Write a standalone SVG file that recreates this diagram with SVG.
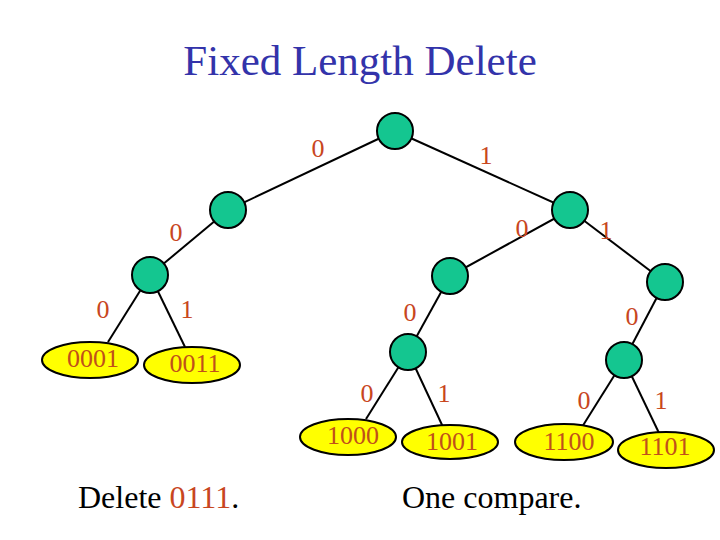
<svg xmlns="http://www.w3.org/2000/svg" width="720" height="540" viewBox="0 0 720 540">
<style>
.n{fill:#14c690;stroke:#000;stroke-width:2}
.lf{fill:#ffff00;stroke:#000;stroke-width:2}
.e{stroke:#000;stroke-width:2;fill:none}
.t{font-family:"Liberation Serif",serif;font-size:26px;fill:#c8461e;text-anchor:middle}
.lt{font-family:"Liberation Serif",serif;font-size:26px;fill:#c0501a;text-anchor:middle}
</style>
<rect width="720" height="540" fill="#fff"/>
<text x="360" y="75" font-family="Liberation Serif,serif" font-size="43" fill="#3333aa" text-anchor="middle">Fixed Length Delete</text>
<g id="connectors">
<line class="e" x1="395" y1="131" x2="228" y2="210"/>
<line class="e" x1="395" y1="131" x2="570" y2="210"/>
<line class="e" x1="228" y1="210" x2="150" y2="275"/>
<line class="e" x1="570" y1="210" x2="450" y2="276"/>
<line class="e" x1="570" y1="210" x2="665" y2="282"/>
<line class="e" x1="450" y1="276" x2="408" y2="352"/>
<line class="e" x1="665" y1="282" x2="624" y2="360"/>
<line class="e" x1="150" y1="275" x2="108" y2="342"/>
<line class="e" x1="150" y1="275" x2="185" y2="347"/>
<line class="e" x1="408" y1="352" x2="366" y2="419"/>
<line class="e" x1="408" y1="352" x2="443" y2="427"/>
<line class="e" x1="624" y1="360" x2="582" y2="427"/>
<line class="e" x1="624" y1="360" x2="659" y2="433"/>
</g>
<g id="labels">
<text class="t" x="318" y="157">0</text>
<text class="t" x="486" y="164">1</text>
<text class="t" x="176" y="241">0</text>
<text class="t" x="522" y="237">0</text>
<text class="t" x="606" y="239">1</text>
<text class="t" x="103" y="318">0</text>
<text class="t" x="187" y="318">1</text>
<text class="t" x="410" y="321">0</text>
<text class="t" x="632" y="325">0</text>
<text class="t" x="367" y="402">0</text>
<text class="t" x="444" y="402">1</text>
<text class="t" x="584" y="409">0</text>
<text class="t" x="661" y="409">1</text>
</g>
<g id="root"><circle class="n" cx="395" cy="131" r="18"/></g>
<g id="n0"><circle class="n" cx="228" cy="210" r="18"/></g>
<g id="n1"><circle class="n" cx="570" cy="210" r="18"/></g>
<g id="n00"><circle class="n" cx="150" cy="275" r="18"/></g>
<g id="n10"><circle class="n" cx="450" cy="276" r="18"/></g>
<g id="n11"><circle class="n" cx="665" cy="282" r="18"/></g>
<g id="n100"><circle class="n" cx="408" cy="352" r="18"/></g>
<g id="n110"><circle class="n" cx="624" cy="360" r="18"/></g>
<g id="leaf0001"><ellipse class="lf" cx="90" cy="360" rx="48" ry="18"/><text class="lt" x="93" y="367">0001</text></g>
<g id="leaf0011"><ellipse class="lf" cx="192" cy="365" rx="48" ry="18"/><text class="lt" x="195" y="372">0011</text></g>
<g id="leaf1000"><ellipse class="lf" cx="348" cy="437" rx="48" ry="18"/><text class="lt" x="353" y="444">1000</text></g>
<g id="leaf1001"><ellipse class="lf" cx="450" cy="442" rx="48" ry="17"/><text class="lt" x="452" y="450">1001</text></g>
<g id="leaf1100"><ellipse class="lf" cx="564" cy="442" rx="49" ry="18"/><text class="lt" x="569" y="450">1100</text></g>
<g id="leaf1101"><ellipse class="lf" cx="666" cy="450" rx="48" ry="18"/><text class="lt" x="665" y="455">1101</text></g>
<text x="78" y="508" font-family="Liberation Serif,serif" font-size="32" fill="#000">Delete <tspan fill="#c8461e">0111</tspan>.</text>
<text x="402" y="508" font-family="Liberation Serif,serif" font-size="32" fill="#000">One compare.</text>
</svg>
